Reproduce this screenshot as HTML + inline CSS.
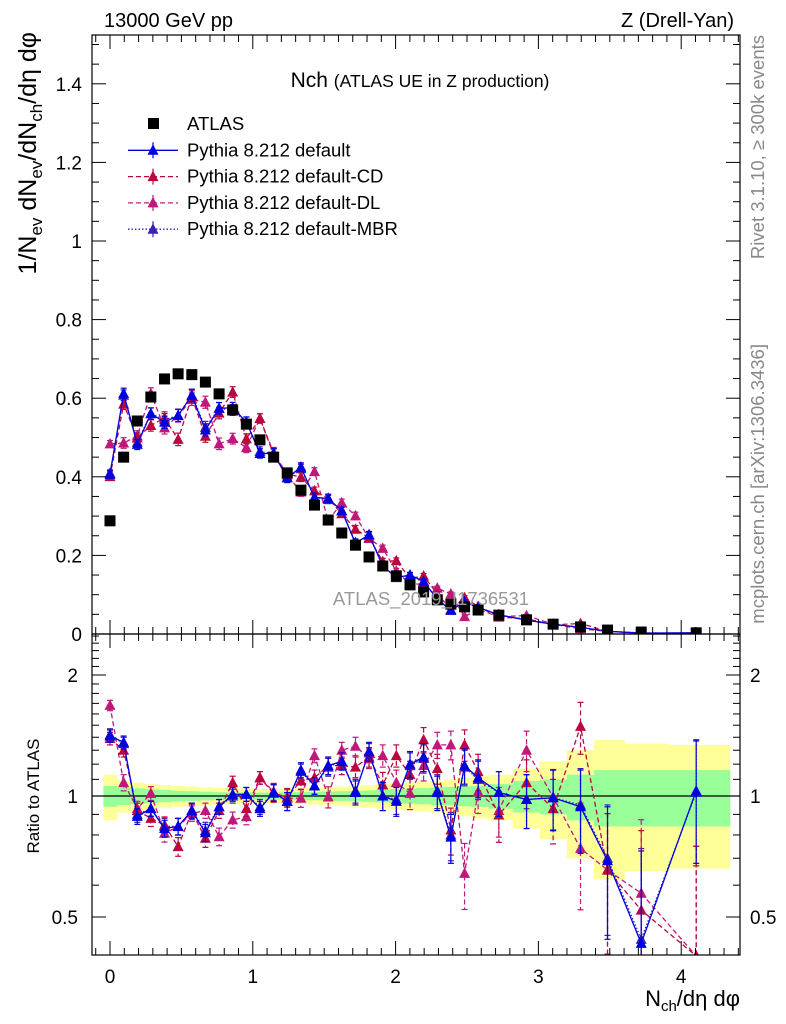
<!DOCTYPE html>
<html><head><meta charset="utf-8"><style>
body{margin:0;background:#fff;}
svg{display:block;font-family:"Liberation Sans",sans-serif;}
</style></head><body>
<svg id="c" width="786" height="1024" viewBox="0 0 786 1024"></svg>
<script>
// ---------- data ----------
const xCenters=[0,0.0955,0.191,0.286,0.382,0.477,0.573,0.668,0.764,0.859,0.955,1.05,1.146,1.241,1.337,1.432,1.528,1.623,1.719,1.814,1.91,2.005,2.101,2.196,2.292,2.387,2.483,2.578,2.723,2.917,3.103,3.295,3.484,3.72,4.105];
const atlasVals=[0.288,0.45,0.542,0.603,0.649,0.662,0.66,0.641,0.611,0.57,0.534,0.494,0.45,0.41,0.366,0.328,0.29,0.257,0.226,0.196,0.173,0.148,0.125,0.107,0.087,0.076,0.069,0.061,0.048,0.036,0.025,0.018,0.010,0.005,0.003];
const defaultRatio=[1.41,1.36,0.89,0.93,0.83,0.84,0.92,0.81,0.94,1.01,1.01,0.93,1.02,0.97,1.16,1.06,1.19,1.22,1.02,1.29,1.0,0.97,1.2,1.25,1.02,0.79,1.19,1.11,1.02,0.98,0.99,0.94,0.69,0.43,1.03];
const cdRatio=[1.39,1.30,0.92,0.88,0.847,0.748,0.914,0.785,0.92,1.08,0.93,1.11,1.015,0.994,1.09,1.11,1.19,1.19,1.18,1.25,1.065,1.26,1.13,1.38,1.17,0.823,1.34,1.15,0.897,1.08,0.93,1.49,0.654,0.52,0.40];
const dlRatio=[1.68,1.08,0.93,1.015,0.808,0.839,0.905,0.92,0.792,0.872,0.888,1.11,1.025,0.987,0.987,1.26,0.994,1.30,1.33,1.24,1.26,1.08,1.015,1.19,1.34,1.34,0.642,1.025,0.92,1.30,0.994,0.741,0.654,0.573,0.40];
const mbrRatio=[1.42,1.35,0.9,0.93,0.84,0.84,0.92,0.82,0.94,1.0,1.01,0.94,1.02,0.97,1.15,1.06,1.18,1.22,1.03,1.28,1.0,0.98,1.19,1.24,1.03,0.8,1.18,1.1,1.02,0.98,0.99,0.95,0.7,0.44,1.02];
const mcErr=[0.05,0.05,0.04,0.04,0.04,0.04,0.04,0.04,0.04,0.04,0.04,0.04,0.05,0.05,0.05,0.05,0.06,0.06,0.07,0.07,0.08,0.08,0.09,0.1,0.1,0.11,0.12,0.12,0.13,0.15,0.17,0.22,0.25,0.3,0.35];
const greenErr=[0.06,0.05,0.045,0.04,0.035,0.03,0.028,0.025,0.022,0.02,0.02,0.02,0.02,0.021,0.022,0.024,0.026,0.028,0.03,0.033,0.036,0.04,0.043,0.046,0.05,0.053,0.057,0.06,0.07,0.09,0.1,0.13,0.16,0.16,0.16];
const yellowErr=[0.13,0.09,0.08,0.07,0.065,0.06,0.055,0.05,0.047,0.045,0.043,0.04,0.04,0.042,0.045,0.048,0.05,0.055,0.06,0.065,0.07,0.075,0.08,0.085,0.09,0.1,0.11,0.12,0.13,0.17,0.22,0.3,0.38,0.35,0.34];
const yTicksMain=[0,0.2,0.4,0.6,0.8,1,1.2,1.4];
const yTickLabelsMain=["0","0.2","0.4","0.6","0.8","1","1.2","1.4"];
const xTicks=[0,1,2,3,4];
const ratioTicks=[0.5,1,2];
const ratioTickLabels=["0.5","1","2"];

// ---------- geometry ----------
const S=document.getElementById('c'),NS="http://www.w3.org/2000/svg";
const L=92,R=740,T=35,M=634,B=955;
const X=v=>110+v*142.8;
const Y=v=>634-v*393;
const YR=r=>796-Math.log2(r)*121;
function el(tag,at,parent){const e=document.createElementNS(NS,tag);for(const k in at)e.setAttribute(k,at[k]);(parent||S).appendChild(e);return e;}
function txt(x,y,s,at){const e=el('text',Object.assign({x:x,y:y},at||{}));e.innerHTML=s;return e;}

const edges=[-0.046];
for(let i=0;i<xCenters.length-1;i++)edges.push((xCenters[i]+xCenters[i+1])/2);
edges.push(4.34);

const defs=el('defs',{});
const cp1=el('clipPath',{id:'cm'},defs);el('rect',{x:L,y:T,width:R-L,height:M-T},cp1);
const cp2=el('clipPath',{id:'cr'},defs);el('rect',{x:L,y:M,width:R-L,height:B-M},cp2);

const gR=el('g',{'clip-path':'url(#cr)'});


xCenters.forEach((c,i)=>{
  const x0=X(edges[i]),x1=X(edges[i+1]);
  const yb=el('rect',{x:x0,y:YR(1+yellowErr[i]),width:x1-x0+0.5,height:YR(1-yellowErr[i])-YR(1+yellowErr[i]),fill:'#ffff99'},gR);
  
  
});
xCenters.forEach((c,i)=>{
  const x0=X(edges[i]),x1=X(edges[i+1]);
  const gb=el('rect',{x:x0,y:YR(1+greenErr[i]),width:x1-x0+0.5,height:YR(1-greenErr[i])-YR(1+greenErr[i]),fill:'#99ff99'},gR);
  
  
});
el('line',{x1:L,x2:R,y1:YR(1),y2:YR(1),stroke:'#000','stroke-width':1.2},gR);

const series=[
 {name:'default-mbr',r:mbrRatio,col:'#3a1fb0',dash:'1.5,2'},
 {name:'default-dl',r:dlRatio,col:'#c0187a',dash:'5,3'},
 {name:'default-cd',r:cdRatio,col:'#b8083f',dash:'5,3'},
 {name:'default',r:defaultRatio,col:'#0000e0',dash:''}
];
function tri(g,x,y,col,name){
  const p=el('polygon',{points:`${x},${y-6} ${x-5.5},${y+4.5} ${x+5.5},${y+4.5}`,fill:col},g);
  
  
}
const gM=el('g',{'clip-path':'url(#cm)'});


series.forEach(s=>{
  const mainV=s.r.map((r,i)=>r*atlasVals[i]);
  el('polyline',{points:mainV.map((v,i)=>X(xCenters[i])+','+Y(v)).join(' '),fill:'none',stroke:s.col,'stroke-width':1.3,'stroke-dasharray':s.dash},gM);
  mainV.forEach((v,i)=>{
    const x=X(xCenters[i]),e=mcErr[i]*atlasVals[i]*0.6;
    el('line',{x1:x,x2:x,y1:Y(v+e),y2:Y(v-e),stroke:s.col,'stroke-width':1.2,'stroke-dasharray':s.dash},gM);
    el('line',{x1:x-3,x2:x+3,y1:Y(v+e),y2:Y(v+e),stroke:s.col,'stroke-width':1.2},gM);
    el('line',{x1:x-3,x2:x+3,y1:Y(v-e),y2:Y(v-e),stroke:s.col,'stroke-width':1.2},gM);
    tri(gM,x,Y(v),s.col,'point-'+s.name);
  });
  el('polyline',{points:s.r.map((v,i)=>X(xCenters[i])+','+YR(v)).join(' '),fill:'none',stroke:s.col,'stroke-width':1.3,'stroke-dasharray':s.dash},gR);
  s.r.forEach((v,i)=>{
    const x=X(xCenters[i]),e=mcErr[i];
    const yt=YR(v+e),yb=YR(Math.max(v-e,0.3));
    el('line',{x1:x,x2:x,y1:yt,y2:yb,stroke:s.col,'stroke-width':1.2,'stroke-dasharray':s.dash},gR);
    el('line',{x1:x-3,x2:x+3,y1:yt,y2:yt,stroke:s.col,'stroke-width':1.2},gR);
    el('line',{x1:x-3,x2:x+3,y1:yb,y2:yb,stroke:s.col,'stroke-width':1.2},gR);
    tri(gR,x,YR(v),s.col,'ratio-point-'+s.name);
  });
});
atlasVals.forEach((v,i)=>{
  const r=el('rect',{x:X(xCenters[i])-5.5,y:Y(v)-5.5,width:11,height:11,fill:'#000'},gM);
  
  
});

const wm=txt(431,605,'ATLAS_2019_I1736531',{'font-size':18.5,fill:'#999','text-anchor':'middle'});



el('rect',{x:L,y:T,width:R-L,height:M-T,fill:'none',stroke:'#000','stroke-width':1.2});
el('rect',{x:L,y:M,width:R-L,height:B-M,fill:'none',stroke:'#000','stroke-width':1.2});

for(let v=0;v<=1.52;v+=0.05){
  const maj=Math.abs(v/0.2-Math.round(v/0.2))<0.01,len=maj?14:7,y=Y(v);
  el('line',{x1:L,x2:L+len,y1:y,y2:y,stroke:'#000'});
  el('line',{x1:R,x2:R-len,y1:y,y2:y,stroke:'#000'});
}
yTicksMain.forEach((v,i)=>{
  const t=txt(82,Y(v)+7,yTickLabelsMain[i],{'font-size':19,'text-anchor':'end'});
  
  
});
for(let v=-0.1;v<=4.4;v+=0.1){
  const vv=Math.round(v*10)/10,maj=Math.abs(vv-Math.round(vv))<0.01,len=maj?14:7,x=X(vv);
  if(x<L||x>R)continue;
  [[M,-1],[T,1],[B,-1],[M,1]].forEach(([y0,d])=>el('line',{x1:x,x2:x,y1:y0,y2:y0+d*len,stroke:'#000'}));
}
xTicks.forEach(v=>{
  const t=txt(X(v),983,String(v),{'font-size':19,'text-anchor':'middle'});
  
  
});
[0.4,0.5,0.6,0.7,0.8,0.9,1,1.1,1.2,1.3,1.4,1.5,1.6,1.7,1.8,1.9,2,2.1,2.2,2.3,2.4,2.5].forEach(r=>{
  const y=YR(r);if(y<M||y>B)return;
  const maj=ratioTicks.includes(r),len=maj?14:7;
  el('line',{x1:L,x2:L+len,y1:y,y2:y,stroke:'#000'});
  el('line',{x1:R,x2:R-len,y1:y,y2:y,stroke:'#000'});
});
ratioTicks.forEach((r,i)=>{
  const t=txt(78,YR(r)+7,ratioTickLabels[i],{'font-size':19,'text-anchor':'end'});
  
  
  const t2=txt(750,YR(r)+7,ratioTickLabels[i],{'font-size':19});
  
  
});

let t;
t=txt(104,27,'13000 GeV pp',{'font-size':20});
t=txt(734,27,'Z (Drell-Yan)',{'font-size':20,'text-anchor':'end'});
t=txt(420,87,'Nch <tspan font-size="17.5">(ATLAS UE in Z production)</tspan>',{'font-size':21,'text-anchor':'middle'});
t=txt(0,0,'1/N<tspan font-size="17" dy="6">ev</tspan><tspan dy="-6"> dN</tspan><tspan font-size="17" dy="6">ev</tspan><tspan dy="-6">/dN</tspan><tspan font-size="17" dy="6">ch</tspan><tspan dy="-6">/dη dφ</tspan>',{'font-size':25,'text-anchor':'end',transform:'translate(36,32) rotate(-90)'});

t=txt(0,0,'Ratio to ATLAS',{'font-size':17,'text-anchor':'middle',transform:'translate(39,796) rotate(-90)'});
t=txt(740,1006,'N<tspan font-size="15" dy="5">ch</tspan><tspan dy="-5">/dη dφ</tspan>',{'font-size':22,'text-anchor':'end'});
t=txt(0,0,'Rivet 3.1.10, ≥ 300k events',{'font-size':18.5,fill:'#888','text-anchor':'end',transform:'translate(764,35) rotate(-90)'});
t=txt(0,0,'mcplots.cern.ch [arXiv:1306.3436]',{'font-size':18.5,fill:'#888','text-anchor':'end',transform:'translate(764,344) rotate(-90)'});

const leg=el('g',{});


const legItems=[['ATLAS','#000','sq',''],['Pythia 8.212 default','#0000e0','tri',''],['Pythia 8.212 default-CD','#b8083f','tri','5,3'],['Pythia 8.212 default-DL','#c0187a','tri','5,3'],['Pythia 8.212 default-MBR','#3a1fb0','tri','1.5,2']];
legItems.forEach((it,i)=>{
  const y=124+i*26.3;
  const g=el('g',{},leg);
  
  
  if(it[2]==='sq'){el('rect',{x:148,y:y-6,width:11,height:11,fill:'#000'},g);}
  else{
    el('line',{x1:128,x2:178,y1:y,y2:y,stroke:it[1],'stroke-width':1.3,'stroke-dasharray':it[3]},g);
    el('line',{x1:153,x2:153,y1:y-8,y2:y+8,stroke:it[1],'stroke-width':1.2},g);
    el('polygon',{points:`153,${y-6} 147.5,${y+4.5} 158.5,${y+4.5}`,fill:it[1]},g);
  }
  txt(187,y+6,it[0],{'font-size':18.5},g);
});
</script>
</body></html>
